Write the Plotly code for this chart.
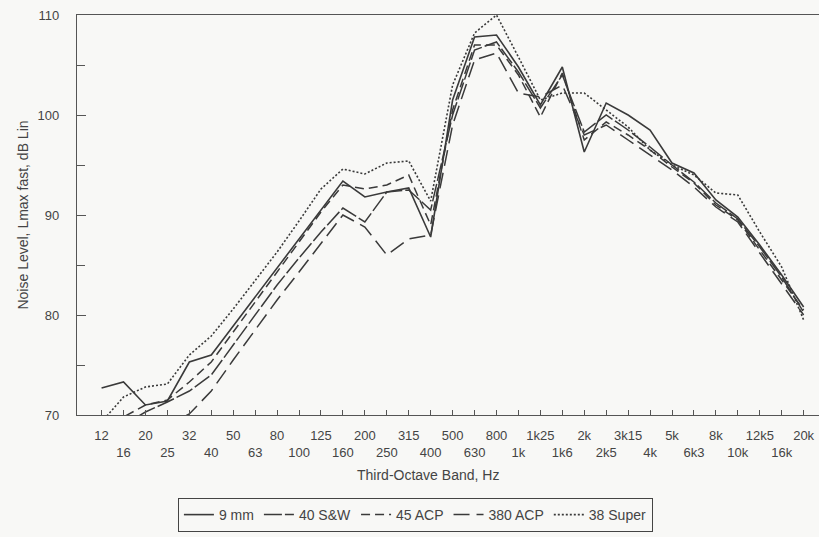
import plotly.graph_objects as go

bands = ["12", "16", "20", "25", "32", "40", "50", "63", "80", "100", "125", "160",
         "200", "250", "315", "400", "500", "630", "800", "1k", "1k25", "1k6", "2k",
         "2k5", "3k15", "4k", "5k", "6k3", "8k", "10k", "12k5", "16k", "20k"]

mm9 = [72.7, 73.3, 71.0, 71.4, 75.3, 76.0, 78.9, 81.8, 84.8, 87.7, 90.6, 93.4, 91.8,
       92.3, 92.7, 87.8, 101.5, 107.8, 108.0, 104.8, 101.0, 104.8, 96.3, 101.2, 100.0,
       98.5, 95.2, 94.2, 91.5, 89.8, 87.0, 84.0, 80.8]
sw40 = [68.0, 69.0, 70.3, 71.3, 72.4, 74.0, 77.0, 80.0, 83.0, 85.7, 88.3, 90.7, 89.3,
        92.3, 92.5, 90.5, 100.0, 106.5, 107.3, 104.3, 100.7, 104.0, 98.3, 100.0, 98.5,
        96.8, 95.0, 93.3, 91.2, 89.6, 86.8, 83.8, 80.3]
acp45 = [68.5, 69.8, 71.0, 71.5, 73.3, 75.3, 78.3, 81.3, 84.3, 87.3, 90.3, 93.0, 92.6,
         93.0, 94.0, 89.0, 100.5, 107.0, 107.0, 104.0, 99.8, 104.2, 97.5, 99.3, 98.0,
         96.5, 94.8, 93.2, 91.0, 89.5, 86.5, 83.5, 80.5]
acp380 = [66.0, 67.0, 68.0, 69.0, 70.1, 72.4, 75.5, 78.5, 81.5, 84.3, 87.2, 90.0, 88.8,
          86.0, 87.6, 88.0, 99.0, 105.5, 106.2, 102.2, 101.8, 103.0, 98.0, 99.0, 97.5,
          96.0, 94.5, 92.8, 90.8, 89.3, 86.2, 83.2, 80.0]
super38 = [69.3, 71.8, 72.8, 73.1, 76.0, 77.9, 80.6, 83.4, 86.3, 89.4, 92.6, 94.6, 94.1,
           95.2, 95.4, 91.4, 103.0, 108.2, 110.0, 105.8, 101.5, 102.2, 102.2, 100.5, 98.8,
           96.5, 95.0, 94.0, 92.2, 92.0, 88.3, 84.8, 79.5]

names = ["9 mm", "40 S&W", "45 ACP", "380 ACP", "38 Super"]
series = [mm9, sw40, acp45, acp380, super38]
dashes = ["solid", "18px,3px", "9px,5px", "16px,7px", "2px,2px"]
widths = [1.6, 1.5, 1.5, 1.5, 1.6]

tick_text = [b if i % 2 == 0 else "<br>" + b for i, b in enumerate(bands)]

FONT = "Liberation Sans, Arial, sans-serif"
INK = "#3a3a3a"
AX = "#555555"
BG = "#f8f8f6"

fig = go.Figure()
for n, s, d, w in zip(names, series, dashes, widths):
    fig.add_trace(go.Scatter(x=bands, y=s, name=n, mode="lines",
                             line=dict(color=INK, width=w, dash=d)))

fig.update_layout(
    width=819, height=537,
    margin=dict(l=77, r=0, t=15, b=122, autoexpand=False),
    paper_bgcolor=BG, plot_bgcolor=BG,
    font=dict(family=FONT, size=13, color="#444"),
    showlegend=True,
    legend=dict(orientation="h", x=0.136, xanchor="left", y=-0.2075, yanchor="top",
                bordercolor="#444", borderwidth=1, bgcolor=BG,
                itemwidth=30,
                font=dict(family=FONT, size=14, color="#444")),
    annotations=[dict(text="Third-Octave Band, Hz", xref="paper", yref="paper",
                      x=(428 - 77) / 742, y=-(475 - 415) / 400, xanchor="center",
                      yanchor="middle", showarrow=False,
                      font=dict(family=FONT, size=14, color="#444"))],
)

fig.update_xaxes(
    type="category", categoryorder="array", categoryarray=bands,
    range=[-1.12, 32.7], tickmode="array", tickvals=bands, ticktext=tick_text,
    tickangle=0,
    ticks="inside", ticklen=5, tickcolor=AX, tickwidth=1,
    showline=True, linecolor=AX, linewidth=1.2, mirror=True,
    showgrid=False, zeroline=False, ticklabelstandoff=8,
    tickfont=dict(family=FONT, size=13, color="#444"),
)
fig.update_yaxes(
    range=[70, 110], tickvals=[70, 80, 90, 100, 110],
    ticks="inside", ticklen=9, tickcolor=AX, tickwidth=1,
    minor=dict(tickvals=[75, 85, 95, 105], ticks="inside", ticklen=8, tickcolor=AX),
    showline=True, linecolor=AX, linewidth=1.2,
    showgrid=False, zeroline=False, ticklabelstandoff=14,
    tickfont=dict(family=FONT, size=13, color="#444"),
    title=dict(text="Noise Level, Lmax fast, dB Lin", standoff=5,
               font=dict(family=FONT, size=14, color="#444")),
)

fig.write_html("out.html", config={"displayModeBar": False},
               post_script="document.body.style.margin='0';document.body.style.background='%s';" % BG)
